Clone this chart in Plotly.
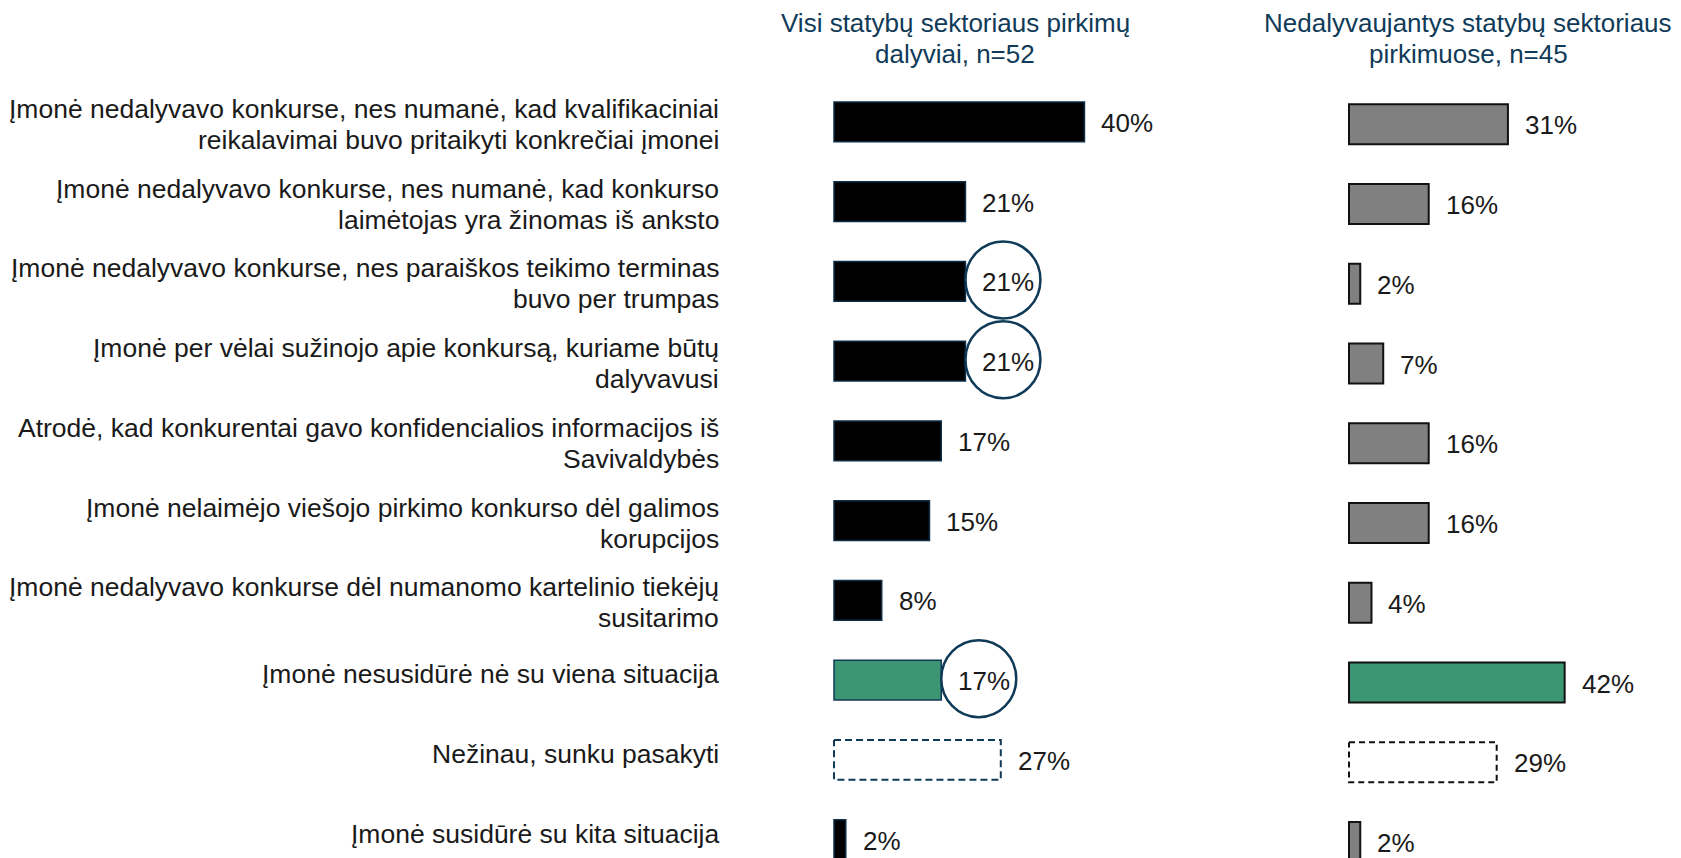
import plotly.graph_objects as go

# ---------------- data ----------------
categories = [
    "Įmonė nedalyvavo konkurse, nes numanė, kad kvalifikaciniai<br>reikalavimai buvo pritaikyti konkrečiai įmonei",
    "Įmonė nedalyvavo konkurse, nes numanė, kad konkurso<br>laimėtojas yra žinomas iš anksto",
    "Įmonė nedalyvavo konkurse, nes paraiškos teikimo terminas<br>buvo per trumpas",
    "Įmonė per vėlai sužinojo apie konkursą, kuriame būtų<br>dalyvavusi",
    "Atrodė, kad konkurentai gavo konfidencialios informacijos iš<br>Savivaldybės",
    "Įmonė nelaimėjo viešojo pirkimo konkurso dėl galimos<br>korupcijos",
    "Įmonė nedalyvavo konkurse dėl numanomo kartelinio tiekėjų<br>susitarimo",
    "Įmonė nesusidūrė nė su viena situacija",
    "Nežinau, sunku pasakyti",
    "Įmonė susidūrė su kita situacija",
]
left_title = ["Visi statybų sektoriaus pirkimų", "dalyviai, n=52"]
right_title = ["Nedalyvaujantys statybų sektoriaus", "pirkimuose, n=45"]

left_values = [40.4, 21.2, 21.2, 21.2, 17.3, 15.4, 7.7, 17.3, 26.9, 1.9]
right_values = [31.1, 15.6, 2.2, 6.7, 15.6, 15.6, 4.4, 42.2, 28.9, 2.2]
left_labels = ["40%", "21%", "21%", "21%", "17%", "15%", "8%", "17%", "27%", "2%"]
right_labels = ["31%", "16%", "2%", "7%", "16%", "16%", "4%", "42%", "29%", "2%"]

circled_left = [2, 3, 7]      # rows whose left value is circled
green_row = 7                 # "no situation" row
dashed_row = 8                # "don't know" row

# ---------------- styles ----------------
OFF = 8                       # page body margin
W, H = 1681 - OFF, 858 - OFF
TOP = 82 - OFF
ROW = 79.75
FONT = "Liberation Sans, Arial, sans-serif"
FS_CAT = 26.5
FS_VAL = 26
FS_TITLE = 26
TXT = "#1a1a1a"
NAVY = "#0f3a58"
GREEN = "#3c9673"
GREY = "#808080"

L_X0, L_PX = 834 - OFF, 6.2
R_X0, R_PX = 1349 - OFF, 5.11
PAD = 0.6  # % units of padding left of zero

rows = list(range(len(categories)))
plot_h = H - TOP
span = plot_h / ROW

fig = go.Figure()

# left bars
lfill, lline, lw = [], [], []
for i in rows:
    if i == green_row:
        lfill.append(GREEN); lline.append(NAVY); lw.append(1.5)
    elif i == dashed_row:
        lfill.append("rgba(255,255,255,0)"); lline.append("rgba(0,0,0,0)"); lw.append(0)
    else:
        lfill.append("#000000"); lline.append("#0e2e48"); lw.append(1.5)
fig.add_trace(go.Bar(y=rows, x=left_values, orientation="h", width=0.5,
                     marker=dict(color=lfill, line=dict(color=lline, width=lw)),
                     xaxis="x", yaxis="y", hoverinfo="skip", showlegend=False))

# right bars
rfill, rline, rw = [], [], []
for i in rows:
    if i == green_row:
        rfill.append(GREEN); rline.append("#111111"); rw.append(2)
    elif i == dashed_row:
        rfill.append("rgba(255,255,255,0)"); rline.append("rgba(0,0,0,0)"); rw.append(0)
    else:
        rfill.append(GREY); rline.append("#111111"); rw.append(2)
fig.add_trace(go.Bar(y=rows, x=right_values, orientation="h", width=0.5,
                     marker=dict(color=rfill, line=dict(color=rline, width=rw)),
                     xaxis="x2", yaxis="y2", hoverinfo="skip", showlegend=False))

# dashed outlines for "don't know"
def dashed_box(v, i, xa, ya, color, dash):
    fig.add_trace(go.Scatter(x=[0, v, v, 0, 0],
                             y=[i - 0.25, i - 0.25, i + 0.25, i + 0.25, i - 0.25],
                             mode="lines", line=dict(color=color, width=2, dash=dash),
                             xaxis=xa, yaxis=ya, hoverinfo="skip", showlegend=False))

dashed_box(left_values[dashed_row], dashed_row, "x", "y", NAVY, "7px,4px")
dashed_box(right_values[dashed_row], dashed_row, "x2", "y2", "#111111", "6px,4px")

annotations = []

# category labels (per line for exact line spacing)
for i, cat in enumerate(categories):
    lines = cat.split("<br>")
    if len(lines) == 1:
        shifts = [6]
    else:
        shifts = [13, -18]
    for ln, sh in zip(lines, shifts):
        annotations.append(dict(text=ln, xref="paper", yref="y", x=(721 - OFF) / W, y=i,
                                xanchor="right", yanchor="middle", yshift=sh,
                                showarrow=False, align="right",
                                font=dict(family=FONT, size=FS_CAT, color=TXT)))

# value labels
for i in rows:
    annotations.append(dict(text=left_labels[i], xref="x", yref="y", x=left_values[i], y=i,
                            xanchor="left", yanchor="middle", xshift=15, yshift=-1,
                            showarrow=False, font=dict(family=FONT, size=FS_VAL, color=TXT)))
    annotations.append(dict(text=right_labels[i], xref="x2", yref="y2", x=right_values[i], y=i,
                            xanchor="left", yanchor="middle", xshift=15, yshift=-1,
                            showarrow=False, font=dict(family=FONT, size=FS_VAL, color=TXT)))

# titles
def title(lines, cx):
    for ln, px in zip(lines, [23.2 - OFF, 54.5 - OFF]):
        annotations.append(dict(text=ln, xref="paper", yref="paper", x=(cx - OFF) / W,
                                y=1 + (TOP - px) / plot_h, xanchor="center", yanchor="middle",
                                showarrow=False, font=dict(family=FONT, size=FS_TITLE, color=NAVY)))

title(left_title, 955)
title(right_title, 1468)

# circles around highlighted values
shapes = []
for i in circled_left:
    shapes.append(dict(type="circle", xref="x", yref="y", xsizemode="pixel", ysizemode="pixel",
                       xanchor=left_values[i], yanchor=i, x0=0, x1=75, y0=-37, y1=40,
                       line=dict(color=NAVY, width=2.5), fillcolor="rgba(0,0,0,0)"))

left_dom_end = 1200 - OFF
fig.update_layout(
    width=W, height=H,
    margin=dict(l=0, r=0, t=TOP, b=0, pad=0),
    paper_bgcolor="white", plot_bgcolor="white",
    barmode="overlay",
    xaxis=dict(domain=[(L_X0 - PAD * L_PX) / W, left_dom_end / W],
               range=[-PAD, (left_dom_end - L_X0) / L_PX], visible=False, fixedrange=True),
    xaxis2=dict(domain=[(R_X0 - PAD * R_PX) / W, 1],
                range=[-PAD, (W - R_X0) / R_PX], visible=False, fixedrange=True),
    yaxis=dict(domain=[0, 1], range=[span - 0.5, -0.5], visible=False, anchor="x", fixedrange=True),
    yaxis2=dict(domain=[0, 1], range=[span - 0.5 - 0.03, -0.53], visible=False, anchor="x2",
                fixedrange=True),
    annotations=annotations,
    shapes=shapes,
    showlegend=False,
    font=dict(family=FONT, size=FS_VAL, color=TXT),
)

fig.write_html("out.html")
